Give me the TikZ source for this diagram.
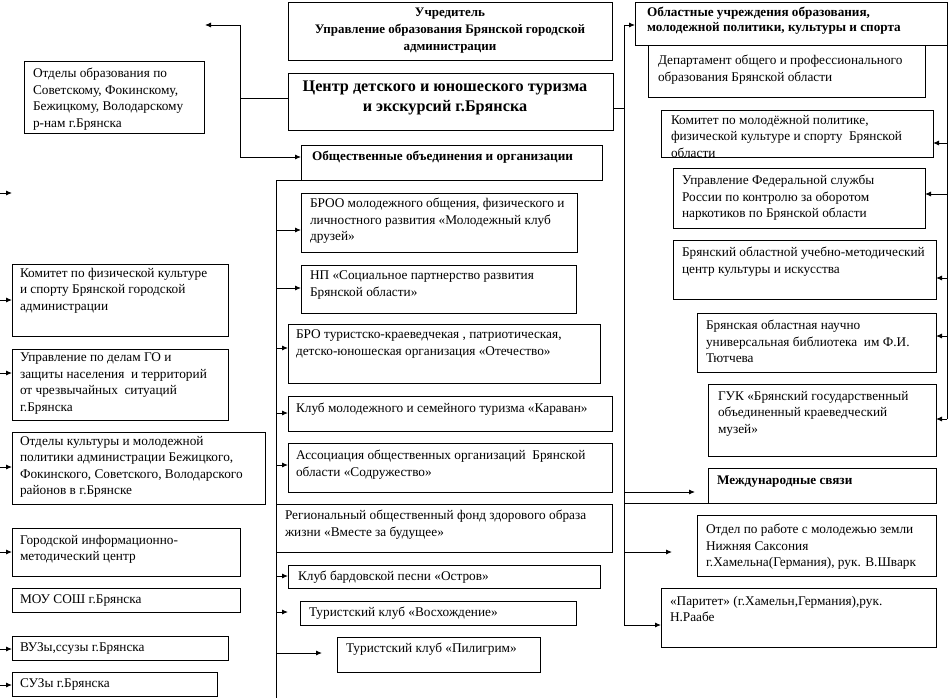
\documentclass[tikz,border=0pt]{standalone}
\usepackage{fontspec}
\setmainfont{Liberation Serif}
\usetikzlibrary{arrows.meta,calc}
\tikzset{
  box/.style={draw, line width=0.9pt, inner sep=0pt, outer sep=0pt, anchor=north west},
  txt/.style={anchor=north west, inner sep=0pt, outer sep=0pt, align=left, font=\fontsize{13.3}{16.5}\selectfont},
  hd/.style={anchor=north west, inner sep=0pt, outer sep=0pt, align=left, font=\fontsize{13.2}{15.5}\selectfont\bfseries},
  arr/.style={line width=0.9pt, -{Latex[length=6pt,width=5pt]}},
  ln/.style={line width=0.9pt},
}
\newcommand\bx[5]{\node[box, minimum width={(#4-#2)*1pt}, minimum height={(#5-#3)*1pt}] (#1) at (#2,#3) {};}
\begin{document}
\begin{tikzpicture}[x=1pt,y=-1pt]
\useasboundingbox (0,0) rectangle (949,698);
\fill[white] (0,0) rectangle (949,698);

% ---------- top centre ----------
\bx{uchr}{288}{2}{612}{60}
\node[anchor=north, inner sep=0pt, align=center, font=\fontsize{13}{17}\selectfont\bfseries] (uchrt) at (450,8)
  {Учредитель\\Управление образования Брянской городской\\администрации};
\bx{centr}{288}{73}{613}{130}
\node[anchor=north, inner sep=0pt, align=center, font=\fontsize{16.2}{19.5}\selectfont\bfseries] (centrt) at (445,81)
  {Центр детского и юношеского туризма\\и экскурсий г.Брянска};
\bx{obsh}{301}{145}{602}{180}
\node[hd] (obsht) at (312,151) {Общественные объединения и организации};

% ---------- left column ----------
\bx{otdobr}{24}{61}{204}{133}
\node[txt] (otdobrt) at (33,68) {Отделы образования по\\Советскому, Фокинскому,\\Бежицкому, Володарскому\\р-нам г.Брянска};
\bx{komfk}{12}{264}{228}{336}
\node[txt] (komfkt) at (20,268) {Комитет по физической культуре\\и спорту Брянской городской\\администрации};
\bx{upgo}{12}{349}{228}{420}
\node[txt] (upgot) at (20,353) {Управление по делам ГО и\\защиты населения~ и территорий\\от чрезвычайных~ ситуаций\\г.Брянска};
\bx{otdkult}{12}{432}{265}{504}
\node[txt] (otdkultt) at (20,436) {Отделы культуры и молодежной\\политики администрации Бежицкого,\\Фокинского, Советского, Володарского\\районов в г.Брянске};
\bx{gorinf}{12}{528}{240}{576}
\node[txt] (gorinft) at (20,535) {Городской информационно-\\методический центр};
\bx{mou}{12}{588}{240}{612}
\node[txt] (mout) at (20,595) {МОУ СОШ г.Брянска};
\bx{vuz}{12}{636}{228}{660}
\node[txt] (vuzt) at (20,643) {ВУЗы,ссузы г.Брянска};
\bx{suz}{12}{672}{217}{696}
\node[txt] (suzt) at (20,679) {СУЗы г.Брянска};

% ---------- middle column ----------
\bx{broo}{301}{193}{577}{252}
\node[txt] (broot) at (310,198) {БРОО молодежного общения, физического и\\личностного развития «Молодежный клуб\\друзей»};
\bx{np}{301}{265}{576}{313}
\node[txt] (npt) at (310,271) {НП «Социальное партнерство развития\\Брянской области»};
\bx{bro}{288}{324}{600}{383}
\node[txt] (brot) at (296,330) {БРО туристско-краеведчекая , патриотическая,\\детско-юношеская организация «Отечество»};
\bx{karavan}{288}{396}{612}{431}
\node[txt] (karavant) at (296,403) {Клуб молодежного и семейного туризма «Караван»};
\bx{assoc}{288}{443}{612}{492}
\node[txt] (assoct) at (296,450) {Ассоциация общественных организаций~ Брянской\\области «Содружество»};
\bx{regfond}{276}{504}{612}{552}
\node[txt] (regfondt) at (285,510) {Региональный общественный фонд здорового образа\\жизни «Вместе за будущее»};
\bx{ostrov}{288}{565}{600}{588}
\node[txt] (ostrovt) at (298,571) {Клуб бардовской песни «Остров»};
\bx{voskh}{300}{601}{576}{625}
\node[txt] (voskht) at (309,607) {Туристский клуб «Восхождение»};
\bx{pilig}{337}{637}{540}{672}
\node[txt] (piligt) at (346,643) {Туристский клуб «Пилигрим»};

% ---------- right column ----------
\bx{obl}{635}{2}{947}{45}
\node[hd] (oblt) at (647,7) {Областные учреждения образования,\\молодежной политики, культуры и спорта};
\bx{dep}{648}{45}{925}{97}
\node[txt] (dept) at (658,55) {Департамент общего и профессионального\\образования Брянской области};
\bx{kommol}{661}{110}{933}{157}
\node[txt] (kommolt) at (671,115) {Комитет по молодёжной политике,\\физической культуре и спорту~ Брянской\\области};
\bx{ufsknk}{673}{168}{925}{228}
\node[txt] (ufsknkt) at (682,175) {Управление Федеральной службы\\России по контролю за оборотом\\наркотиков по Брянской области};
\bx{uchmet}{673}{240}{936}{299}
\node[txt] (uchmett) at (682,247) {Брянский областной учебно-методический\\центр культуры и искусства};
\bx{bibl}{697}{313}{936}{372}
\node[txt] (biblt) at (706,320) {Брянская областная научно\\универсальная библиотека~ им Ф.И.\\Тютчева};
\bx{guk}{708}{384}{936}{456}
\node[txt] (gukt) at (718,391) {ГУК «Брянский государственный\\объединенный краеведческий\\музей»};
\bx{mezh}{708}{468}{936}{503}
\node[hd] (mezht) at (717,476) {Международные связи};
\bx{otdmol}{697}{515}{936}{576}
\node[txt] (otdmolt) at (706,524) {Отдел по работе с молодежью земли\\Нижняя Саксония\\г.Хамельна(Германия), рук. В.Шварк};
\bx{paritet}{661}{588}{936}{647}
\node[txt] (paritett) at (670,596) {«Паритет» (г.Хамельн,Германия),рук.\\Н.Раабе};

% ---------- coordinates ----------
\coordinate (tlA) at (205,25);
\coordinate (tlV) at (240,25);
\coordinate (tlC) at (240,98);
\coordinate (tlO) at (240,157);
\coordinate (cR) at (613,108);
\coordinate (sRtop) at (624,25);
\coordinate (sRc) at (624,108);
\coordinate (sRbot) at (624,625);
\coordinate (sLtop) at (276,180);
\coordinate (sLbot) at (276,698);
\coordinate (sFtop) at (947,45);
\coordinate (sFbot) at (947,419);

% ---------- top-left tree ----------
\draw[arr] (tlV) -- (tlA);
\draw[ln] (tlV) -- (tlO);
\draw[ln] (tlC) -- (tlC -| centr.west);
\draw[arr] (tlO) -- (tlO -| obsh.west);

% ---------- left stubs ----------
\coordinate (l0) at (0,193); \coordinate (l0e) at (12,193);
\draw[arr] (l0) -- (l0e);
\foreach \n/\y in {komfk/300, upgo/373, otdkult/467, gorinf/552, vuz/649, suz/685}{
  \coordinate (ls-\n) at (0,\y);
  \draw[arr] (ls-\n) -- (ls-\n -| \n.west);
}

% ---------- middle spine ----------
\draw[ln] (obsh.south west) -- (sLtop) -- (sLbot);
\foreach \n/\y in {broo/230, np/288, bro/348, karavan/413, assoc/465, ostrov/576, voskh/612, pilig/653}{
  \coordinate (ms-\n) at (276,\y);
}
\foreach \n in {broo, np, bro, karavan, assoc, ostrov}{
  \draw[arr] (ms-\n) -- (ms-\n -| \n.west);
}
\coordinate (e-voskh) at (288,612);
\coordinate (e-pilig) at (322,653);
\draw[arr] (ms-voskh) -- (e-voskh);
\draw[arr] (ms-pilig) -- (e-pilig);

% ---------- right spine ----------
\draw[ln] (cR) -- (sRc);
\draw[ln] (sRtop) -- (sRbot);
\draw[arr] (sRtop) -- (sRtop -| obl.west);
\coordinate (rs-mezh) at (624,492); \coordinate (e-mezh) at (695,492);
\draw[arr] (rs-mezh) -- (e-mezh);
\coordinate (rs-line) at (624,503);
\draw[ln] (rs-line) -- (mezh.south west);
\coordinate (rs-otdmol) at (624,552); \coordinate (e-otdmol) at (672,552);
\draw[arr] (rs-otdmol) -- (e-otdmol);
\draw[arr] (sRbot) -- (sRbot -| paritet.west);

% ---------- far right spine ----------
\draw[ln] (sFtop) -- (sFbot);
\foreach \n/\y in {kommol/143, ufsknk/194, uchmet/278, bibl/336, guk/419}{
  \coordinate (fs-\n) at (947,\y);
  \draw[arr] (fs-\n) -- (fs-\n -| \n.east);
}
\end{tikzpicture}
\end{document}
